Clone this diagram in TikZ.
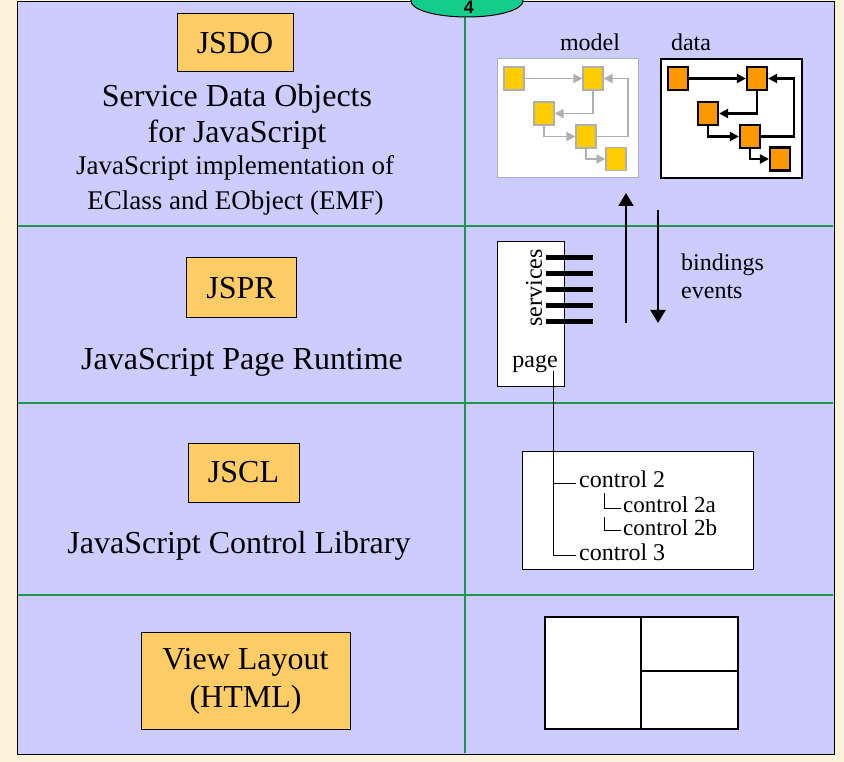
\documentclass[tikz,border=0pt]{standalone}
\usepackage{fontspec}
\setmainfont{Liberation Serif}
\newfontfamily\numfont{Liberation Sans}
\usetikzlibrary{arrows.meta,shapes.geometric}
\definecolor{cream}{RGB}{253,242,218}
\definecolor{lav}{RGB}{204,204,255}
\definecolor{grn}{RGB}{30,150,80}
\definecolor{orng}{RGB}{255,204,102}
\definecolor{tabcol}{RGB}{20,204,140}
\definecolor{myel}{RGB}{255,204,0}
\definecolor{dorng}{RGB}{255,153,0}
\definecolor{mgray}{RGB}{175,175,175}
\tikzset{
  big/.style={font=\fontsize{32}{38}\selectfont},
  mid/.style={font=\fontsize{27}{32}\selectfont},
  small/.style={font=\fontsize{24}{28}\selectfont},
  smaller/.style={font=\fontsize{23}{26}\selectfont},
  titlebox/.style={draw=black, line width=1pt, fill=orng, inner sep=0pt, big},
  whitebox/.style={draw=black, line width=1pt, fill=white, inner sep=0pt},
  msq/.style={draw=mgray, line width=1.2pt, fill=myel, minimum width=20pt, minimum height=23pt, inner sep=0pt},
  dsq/.style={draw=black, line width=2.2pt, fill=dorng, minimum width=20pt, minimum height=23pt, inner sep=0pt},
  marrow/.style={draw=mgray, line width=1.2pt, -{Triangle[length=9pt,width=9pt]}},
  darrow/.style={draw=black, line width=2.2pt, -{Triangle[length=9pt,width=9pt]}},
  bigarrow/.style={draw=black, line width=2pt, -{Triangle[length=13pt,width=15pt]}},
  divider/.style={draw=grn, line width=1.4pt},
  bar/.style={draw=black, line width=5pt},
  treeline/.style={draw=black, line width=1pt},
}
\begin{document}
\begin{tikzpicture}[x=1pt,y=-1pt]
\useasboundingbox (0,0) rectangle (844,762);
\fill[cream] (0,0) rectangle (844,762);
% main panel
\draw[fill=lav, line width=1pt] (17,2) rectangle (834,754);
\draw[divider] (465,2) -- (465,753);
\draw[divider] (18,226) -- (833,226);
\draw[divider] (18,403) -- (833,403);
\draw[divider] (18,595) -- (833,595);
% tab
\node[ellipse, draw=black, line width=1pt, fill=tabcol, minimum width=112pt, minimum height=32pt, inner sep=0pt] (tab) at (467,1) {};
\node[font=\numfont\bfseries\fontsize{18}{20}\selectfont, inner sep=0pt] (tabnum) at (469,7.5) {4};

% ---- left column
\node[titlebox, minimum width=116pt, minimum height=58pt] (jsdo) at (235,43) {JSDO};
\node[big, anchor=base, inner sep=0pt] (sdo1) at (237,107) {Service Data Objects};
\node[big, anchor=base, inner sep=0pt] (sdo2) at (237,143) {for JavaScript};
\node[mid, anchor=base, inner sep=0pt] (sdo3) at (235,175) {JavaScript implementation of};
\node[mid, anchor=base, inner sep=0pt] (sdo4) at (235.5,210) {EClass and EObject (EMF)};

\node[titlebox, minimum width=110pt, minimum height=60pt] (jspr) at (241,288) {JSPR};
\node[big, anchor=base, inner sep=0pt] (jsprt) at (242,369) {JavaScript Page Runtime};

\node[titlebox, minimum width=111pt, minimum height=59pt] (jscl) at (243.5,472.5) {JSCL};
\node[big, anchor=base, inner sep=0pt] (jsclt) at (239,553) {JavaScript Control Library};

\node[titlebox, minimum width=209pt, minimum height=97pt, align=center] (view) at (245.5,681) {View Layout\\(HTML)};

% ---- right column: model / data
\node[small, anchor=base, inner sep=0pt] (modellbl) at (590,51) {model};
\node[small, anchor=base, inner sep=0pt] (datalbl) at (691,51) {data};
\node[draw=mgray, line width=1pt, fill=white, minimum width=141pt, minimum height=119pt, inner sep=0pt] (modelbox) at (567.5,118.5) {};
\node[draw=black, line width=1.2pt, fill=white, minimum width=141pt, minimum height=119pt, inner sep=0pt] (databox) at (731.5,118.5) {};

\node[msq] (m1) at (514,78.5) {};
\node[msq] (m2) at (593,78.5) {};
\node[msq] (m3) at (544,113.5) {};
\node[msq] (m4) at (586,136.5) {};
\node[msq] (m5) at (616,159) {};
\draw[marrow] (m1.east) -- (m2.west);
\draw[marrow] (m2.south) |- (m3.east);
\draw[marrow] (m3.south) |- (m4.west);
\draw[marrow] (m4.south) |- (m5.west);
\coordinate (mloop) at (628,136.5);
\draw[marrow] (m4.east) -- (mloop) |- (m2.east);

\node[dsq] (d1) at (678,78.5) {};
\node[dsq] (d2) at (757,78.5) {};
\node[dsq] (d3) at (708,113.5) {};
\node[dsq] (d4) at (750,136.5) {};
\node[dsq] (d5) at (780,159) {};
\draw[darrow] (d1.east) -- (d2.west);
\draw[darrow] (d2.south) |- (d3.east);
\draw[darrow] (d3.south) |- (d4.west);
\draw[darrow] (d4.south) |- (d5.west);
\coordinate (dloop) at (794,136.5);
\draw[darrow] (d4.east) -- (dloop) |- (d2.east);

% ---- bindings / events arrows
\coordinate (upstart) at (626,323);
\coordinate (upend) at (626,193);
\coordinate (dnstart) at (658,210);
\coordinate (dnend) at (658,323);
\draw[bigarrow] (upstart) -- (upend);
\draw[bigarrow] (dnstart) -- (dnend);
\node[small, anchor=base west, inner sep=0pt] (bind) at (681,271) {bindings};
\node[small, anchor=base west, inner sep=0pt] (evts) at (681,299) {events};

% ---- page box
\node[whitebox, minimum width=67pt, minimum height=144pt] (page) at (530.5,314) {};
\node[small, rotate=90, inner sep=0pt] (serv) at (534,288) {services};
\foreach \yy in {258,274,290,306,322} { \draw[bar] (546,\yy) -- (593,\yy); }
\node[small, anchor=base, inner sep=0pt] (pagelbl) at (535,367) {page};

% ---- control box
\node[whitebox, minimum width=231pt, minimum height=118pt] (ctrl) at (637.5,510) {};
\node[small, anchor=base west, inner sep=0pt] (c2) at (579,487) {control 2};
\node[smaller, anchor=base west, inner sep=0pt] (c2a) at (623,512) {control 2a};
\node[smaller, anchor=base west, inner sep=0pt] (c2b) at (623,535) {control 2b};
\node[small, anchor=base west, inner sep=0pt] (c3) at (579,560) {control 3};
\coordinate (treetop) at (553,371);
\coordinate (c3y) at (553,555);
\coordinate (c2y) at (553,483);
\coordinate (c2end) at (576,483);
\coordinate (c3end) at (576,555);
\draw[treeline] (treetop) -- (c3y) -- (c3end);
\draw[treeline] (c2y) -- (c2end);
\coordinate (s1top) at (604,493);
\coordinate (s1bot) at (604,508);
\coordinate (s1end) at (621,508);
\coordinate (s2top) at (604,517);
\coordinate (s2bot) at (604,530);
\coordinate (s2end) at (621,530);
\draw[treeline] (s1top) -- (s1bot) -- (s1end);
\draw[treeline] (s2top) -- (s2bot) -- (s2end);

% ---- layout box
\node[draw=black, line width=2pt, fill=white, minimum width=193pt, minimum height=112pt, inner sep=0pt] (lay) at (641.5,673) {};
\coordinate (vtop) at (641,617);
\coordinate (vbot) at (641,729);
\coordinate (hleft) at (641,671);
\coordinate (hright) at (738,671);
\draw[black, line width=2pt] (vtop) -- (vbot);
\draw[black, line width=2pt] (hleft) -- (hright);
\end{tikzpicture}
\end{document}
